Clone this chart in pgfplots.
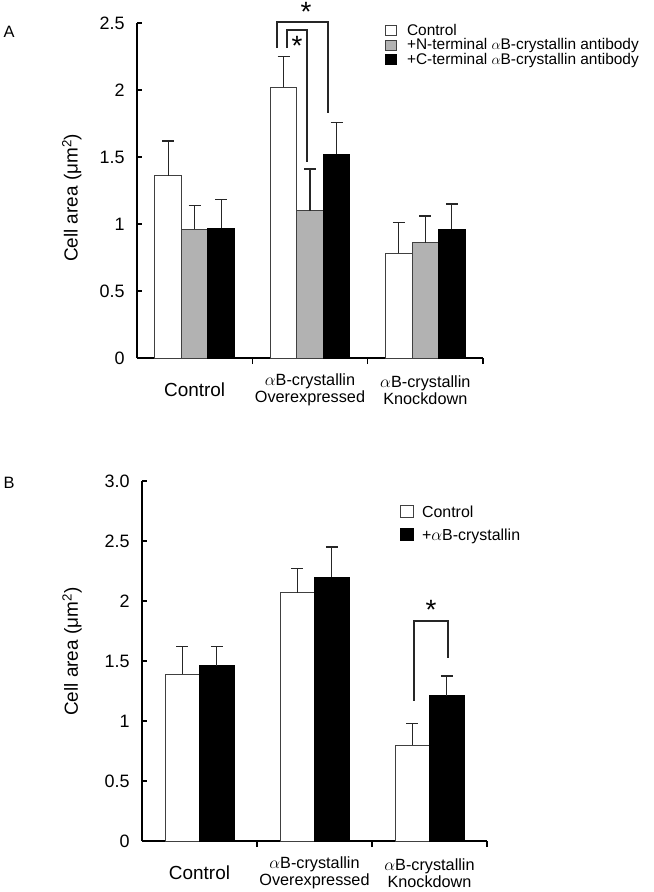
\documentclass[border=0pt]{standalone}
\usepackage{fontspec}
\setmainfont{Liberation Sans}
\usepackage{pgfplots}
\pgfplotsset{compat=1.18}
\newcommand{\ax}{$\alpha$}
\definecolor{bargray}{RGB}{178,178,178}
\pgfplotsset{
 sq/.style={legend image code/.code={\draw[##1, line width=0.8bp] (0bp,0bp) rectangle (11bp,10bp);}},
 sqb/.style={legend image code/.code={\draw[##1, line width=0.8bp] (0bp,0bp) rectangle (13bp,12bp);}},
 eb/.style={error bars/.cd, y dir=plus, y explicit,
   error bar style={line width=1.2bp, black!85},
   error mark options={rotate=90, mark size=6bp, line width=1.2bp, black!85}},
 mybar/.style={
  scale only axis,
  axis lines=left,
  x axis line style={-, line width=1.8bp},
  y axis line style={-, line width=1.8bp},
  tick align=inside,
  major tick length=5bp,
  minor tick length=6bp,
  every tick/.style={black, line width=1.4bp},
  every major x tick/.style={draw=none},
  xmin=0, xmax=3, ymin=0,
  xtick={0.5,1.5,2.5},
  minor xtick={1,2,3},
  xticklabels={{\fontsize{19}{20}\selectfont Control}, {\ax B-crystallin\\Overexpressed}, {\ax B-crystallin\\Knockdown}},
  xticklabel style={align=center, anchor=center, yshift=-27bp, font=\fontsize{16.3}{17}\selectfont},
  yticklabel style={font=\fontsize{18}{18}\selectfont, xshift=-9bp},
  ylabel={Cell area (μm\textsuperscript{2})},
  ylabel style={anchor=center, rotate=0, font=\fontsize{19}{19}\selectfont},
  ybar=0pt,
  clip=false,
  enlarge x limits=false,
  legend cell align=left,
 }
}
\begin{document}
\begin{tikzpicture}
% ---------- Panel A ----------
\begin{axis}[mybar, at={(137bp,-358bp)}, anchor=south west,
  width=346bp, height=335bp, ymax=2.5,
  ytick={0,0.5,1,1.5,2,2.5}, yticklabels={0,0.5,1,1.5,2,2.5},
  bar width=26.5bp,
  ylabel style={at={(axis description cs:-0.188,0.478)}},
  legend style={at={(axis description cs:0.717,0.9964)}, anchor=north west,
    draw=none, fill=none, inner sep=0pt, column sep=10bp, row sep=0.3bp,
    font=\fontsize{15.5}{16}\selectfont, cells={anchor=base west},
    nodes={inner sep=0pt, text height=10.8bp, text depth=3.6bp}}]
\addplot[fill=white, draw=black!75, line width=1bp, sq, eb] table[x=x, y=y, y error=e] {
x y e
0.5 1.36 0.26
1.5 2.02 0.23
2.5 0.78 0.23
};
\addplot[fill=bargray, draw=black!75, line width=1bp, sq, eb] table[x=x, y=y, y error=e] {
x y e
0.5 0.96 0.18
1.5 1.10 0.31
2.5 0.86 0.20
};
\addplot[fill=black, draw=black, line width=1bp, sq, eb] table[x=x, y=y, y error=e] {
x y e
0.5 0.97 0.21
1.5 1.52 0.24
2.5 0.96 0.19
};
\legend{Control, +N-terminal \ax B-crystallin antibody, +C-terminal \ax B-crystallin antibody}
\draw[line width=1.3bp, black!85] (axis cs:1.214,2.313) -- (axis cs:1.214,2.507) -- (axis cs:1.656,2.507) -- (axis cs:1.656,1.828);
\draw[line width=1.3bp, black!85] (axis cs:1.301,2.313) -- (axis cs:1.301,2.448) -- (axis cs:1.474,2.448) -- (axis cs:1.474,1.463);
\node[font=\fontsize{28}{28}\selectfont, inner sep=0pt] at (axis cs:1.465,2.58) {*};
\node[font=\fontsize{28}{28}\selectfont, inner sep=0pt] at (axis cs:1.387,2.326) {*};
\end{axis}
% ---------- Panel B ----------
\begin{axis}[mybar, at={(142bp,-841bp)}, anchor=south west,
  width=345bp, height=360bp, ymax=3,
  ytick={0,0.5,1,1.5,2,2.5,3}, yticklabels={0,0.5,1,1.5,2,2.5,3.0},
  bar width=34.5bp,
  ylabel style={at={(axis description cs:-0.203,0.526)}},
  legend style={at={(axis description cs:0.748,0.934)}, anchor=north west,
    draw=none, fill=none, inner sep=0pt, column sep=8bp, row sep=7bp,
    font=\fontsize{16}{17}\selectfont, cells={anchor=base west},
    nodes={inner sep=0pt, text height=10bp, text depth=4bp}}]
\addplot[fill=white, draw=black!75, line width=1bp, sqb, eb] table[x=x, y=y, y error=e] {
x y e
0.5 1.39 0.23
1.5 2.07 0.20
2.5 0.80 0.18
};
\addplot[fill=black, draw=black, line width=1bp, sqb, eb] table[x=x, y=y, y error=e] {
x y e
0.5 1.46 0.16
1.5 2.20 0.25
2.5 1.21 0.165
};
\legend{Control, +\ax B-crystallin}
\draw[line width=1.3bp, black!85] (axis cs:2.365,1.167) -- (axis cs:2.365,1.833) -- (axis cs:2.661,1.833) -- (axis cs:2.661,1.525);
\node[font=\fontsize{28}{28}\selectfont, inner sep=0pt] at (axis cs:2.513,1.93) {*};
\end{axis}
\node[font=\fontsize{16.5}{17}\selectfont] at (9bp,-32bp) {A};
\node[font=\fontsize{16.5}{17}\selectfont] at (9bp,-483bp) {B};
\pgfresetboundingbox
\useasboundingbox (0,0) rectangle (654bp,-892bp);
\end{tikzpicture}
\end{document}
